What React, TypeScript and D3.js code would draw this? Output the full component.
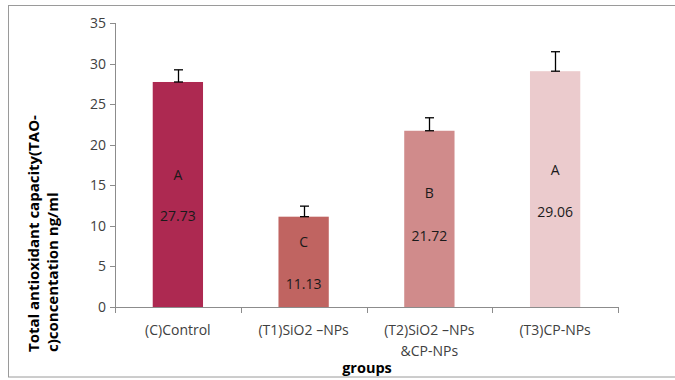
import React from "react";
import * as d3 from "d3";

const categories = ["(C)Control", "(T1)SiO2 –NPs", "(T2)SiO2 –NPs\n&CP-NPs", "(T3)CP-NPs"];
const values = [27.73, 11.13, 21.72, 29.06];
const errors = [1.5, 1.3, 1.6, 2.4];
const letters = ["A", "C", "B", "A"];
const letterAt = [16.3, 8.0, 14.0, 16.9];
const valueLabelAt = [11.2, 2.9, 8.7, 11.7];
const colors = ["#AD2951", "#C06461", "#D08B8B", "#EBCBCD"];
const yTicks = [0, 5, 10, 15, 20, 25, 30, 35];

const W = 675;
const H = 380;
const FONT = "'Open Sans', sans-serif";

export default function App() {
  const x = d3.scaleBand<string>().domain(categories).range([115, 618]).paddingInner(0.6).paddingOuter(0.3);
  const y = d3.scaleLinear().domain([0, 35]).range([307, 23]);
  const step = x.step();
  const axisColor = "#8c8c8c";
  return (
    <svg width={W} height={H} style={{ position: "absolute", left: 0, top: 0, background: "#fff" }}>
      <rect x={8.5} y={5.5} width={720} height={371.5} fill="#fff" stroke="#9a9a9a" strokeWidth={1} />
      {/* y axis */}
      <line x1={115.5} x2={115.5} y1={y(35)} y2={y(0)} stroke={axisColor} />
      {yTicks.map((t) => (
        <g key={t}>
          <line x1={110} x2={115.5} y1={Math.round(y(t)) + 0.5} y2={Math.round(y(t)) + 0.5} stroke={axisColor} />
          <text x={106} y={y(t)} dy="0.36em" textAnchor="end" fontFamily={FONT} fontSize={14} fill="#404040">
            {t}
          </text>
        </g>
      ))}
      {/* bars */}
      {categories.map((c, i) => (
        <rect key={c} x={x(c)} y={y(values[i])} width={x.bandwidth()} height={y(0) - y(values[i])} fill={colors[i]} />
      ))}
      {/* x axis */}
      <line x1={115} x2={618.5} y1={307.5} y2={307.5} stroke={axisColor} />
      {d3.range(categories.length + 1).map((k) => (
        <line key={k} x1={Math.round(115 + k * step) + 0.5} x2={Math.round(115 + k * step) + 0.5} y1={307} y2={313} stroke={axisColor} />
      ))}
      {/* error bars */}
      {categories.map((c, i) => {
        const cx = Math.round((x(c) as number) + x.bandwidth() / 2) + 0.5;
        const top = y(values[i] + errors[i]);
        const bot = y(values[i]);
        return (
          <g key={c} stroke="#000" strokeWidth={1.3}>
            <line x1={cx} x2={cx} y1={top} y2={bot} />
            <line x1={cx - 4.5} x2={cx + 4.5} y1={top} y2={top} />
            <line x1={cx - 4.5} x2={cx + 4.5} y1={bot} y2={bot} />
          </g>
        );
      })}
      {/* data labels */}
      {categories.map((c, i) => {
        const cx = (x(c) as number) + x.bandwidth() / 2;
        return (
          <g key={c} fontFamily={FONT} fontSize={14} fill="#1a1a1a" textAnchor="middle">
            <text x={cx} y={y(letterAt[i])} dy="0.36em">{letters[i]}</text>
            <text x={cx} y={y(valueLabelAt[i])} dy="0.36em">{values[i].toFixed(2)}</text>
          </g>
        );
      })}
      {/* category labels */}
      {categories.map((c) => {
        const cx = (x(c) as number) + x.bandwidth() / 2;
        return (
          <text key={c} x={cx} y={335} textAnchor="middle" fontFamily={FONT} fontSize={14} fill="#404040">
            {c.split("\n").map((ln, j) => (
              <tspan key={j} x={cx} dy={j === 0 ? 0 : 21}>{ln}</tspan>
            ))}
          </text>
        );
      })}
      {/* axis titles */}
      <text x={367} y={373} textAnchor="middle" fontFamily={FONT} fontSize={14.5} fontWeight="bold" fill="#000">
        groups
      </text>
      <text transform="translate(39,352) rotate(-90)" fontFamily={FONT} fontSize={15} fontWeight="bold" fill="#000">
        Total antioxidant capacity(TAO-
      </text>
      <text transform="translate(58,352) rotate(-90)" fontFamily={FONT} fontSize={15} fontWeight="bold" fill="#000">
        c)concentation ng/ml
      </text>
    </svg>
  );
}
